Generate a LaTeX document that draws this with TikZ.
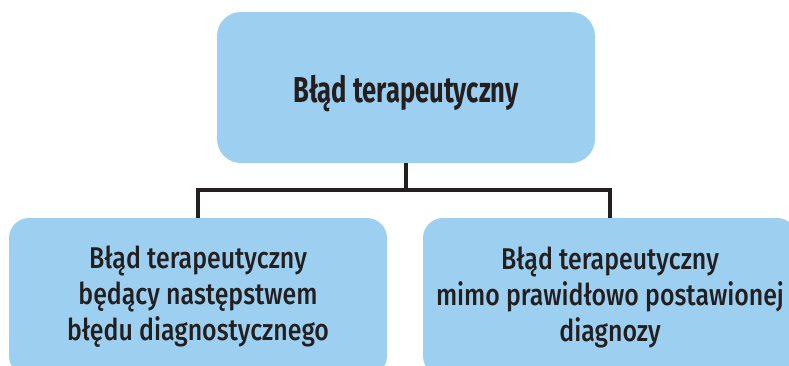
\documentclass[tikz,border=0pt]{standalone}
\usepackage{fontspec}
\setmainfont{Fira Sans}[UprightFont=* Medium, BoldFont=* Bold, FakeStretch=0.83]
\newfontfamily\headfont{Fira Sans}[UprightFont=* Bold, FakeStretch=0.71]
\usetikzlibrary{positioning}
\definecolor{boxblue}{RGB}{157,208,240}
\definecolor{inkdark}{RGB}{35,31,32}
\tikzstyle{box} = [fill=boxblue, rounded corners=24pt, minimum width=378pt, align=center, text=inkdark, inner sep=0pt, font=\fontsize{30}{36}\selectfont]
\tikzstyle{link} = [draw=inkdark, line width=4pt]

\begin{document}
\begin{tikzpicture}[x=1pt,y=-1pt]
    \clip (0,0) rectangle (789,365);
    \node[box, minimum height=151pt, text height=30pt, text depth=1pt, font=\fontsize{36}{40}\headfont] (top) at (406,87.5) {Błąd terapeutyczny};
    \node[box, minimum height=158pt, rounded corners=20pt] (left) at (198,297) {Błąd terapeutyczny\\będący następstwem\\błędu diagnostycznego};
    \node[box, minimum height=158pt, minimum width=374pt, rounded corners=20pt] (right) at (610,297) {Błąd terapeutyczny\\mimo prawidłowo postawionej\\diagnozy};
    \coordinate (split) at (406,190);
    \draw[link] (top.south) -- (split);
    \draw[link] (left.north) |- (split) -| (right.north);
\end{tikzpicture}
\end{document}
